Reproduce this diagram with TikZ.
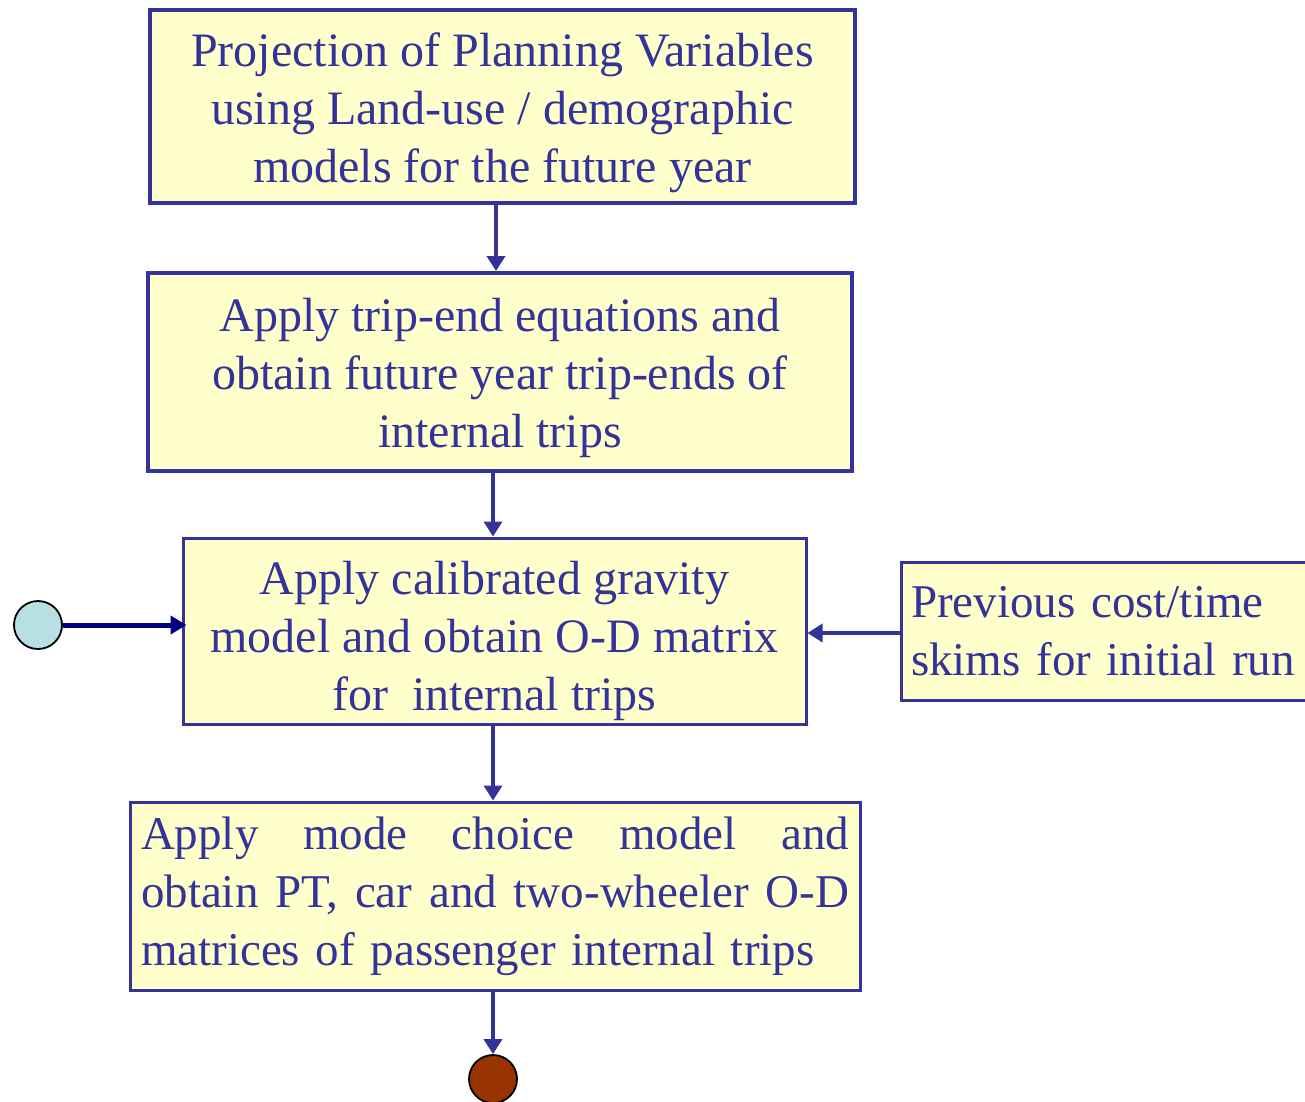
\documentclass[tikz,border=0pt]{standalone}
\usepackage{fontspec}
\setmainfont{Liberation Serif}
\usetikzlibrary{arrows.meta,calc}
\definecolor{boxblue}{HTML}{333399}
\definecolor{boxfill}{HTML}{FFFFCC}
\definecolor{navyline}{HTML}{000080}
\definecolor{startfill}{HTML}{B8DFE3}
\definecolor{endfill}{HTML}{993300}
\tikzset{
  stepbox/.style={draw=boxblue, fill=boxfill, text=boxblue, inner sep=0pt,
    align=center, font=\fontsize{48}{58}\selectfont},
  smallbox/.style={stepbox, font=\fontsize{47}{58}\selectfont},
  flow/.style={draw=boxblue, line width=4.5pt, -{Triangle[length=15pt,width=18pt]}},
  terminal/.style={circle, draw=black, line width=1.8pt, minimum size=48pt, inner sep=0pt},
}
% invisible strut that lowers a block of lines inside its box
\newcommand{\topstrut}[1]{\rule{0pt}{#1}}
\begin{document}
\begin{tikzpicture}[x=1pt,y=-1pt]
\useasboundingbox (0,0) rectangle (1305,1101);
\begin{scope}
\clip (0,0) rectangle (1305,1101);

\node[stepbox, line width=4pt, minimum width=705pt, minimum height=193pt] (b1) at (502.5,106.5)
  {\topstrut{46pt}Projection of Planning Variables\\using Land-use / demographic\\models for the future year};
\node[stepbox, line width=4pt, minimum width=704pt, minimum height=198pt] (b2) at (500,372)
  {\topstrut{46pt}Apply trip-end equations and\\obtain future year trip-ends of\\internal trips};
\node[stepbox, line width=3pt, minimum width=623pt, minimum height=186pt] (b3) at (494.5,631)
  {\topstrut{53pt}Apply calibrated gravity\\model and obtain O-D matrix\\for\ \ internal trips};
\node[smallbox, line width=3pt, minimum width=420pt, minimum height=138pt, align=left,
      text width=400pt] (b4) at (1111,631)
  {Previous cost/time\\skims for initial run};
\node[smallbox, line width=3pt, minimum width=730pt, minimum height=188pt, align=left,
      text width=708pt] (b5) at (495,896)
  {\makebox[708pt]{Apply\hfill mode\hfill choice\hfill model\hfill and}\\
   \makebox[708pt]{obtain\hfill PT,\hfill car\hfill and\hfill two-wheeler\hfill O-D}\\
   matrices of passenger internal trips};
\end{scope}

\node[terminal, fill=startfill] (start) at (38,625) {};
\node[terminal, fill=endfill] (stop) at (493,1079) {};

\coordinate (x1) at (496,0);
\coordinate (x2) at (493,0);
\draw[flow] (b1.south -| x1) -- (b2.north -| x1);
\draw[flow] (b2.south -| x2) -- (b3.north -| x2);
\draw[flow] (b3.south -| x2) -- (b5.north -| x2);
\draw[flow] (b5.south -| x2) -- (stop.north);
\draw[flow] (b4.west |- 0,633) -- (b3.east |- 0,633);
\draw[draw=navyline, line width=5pt, -{Triangle[length=16pt,width=18pt]}]
  (start.east) -- ([xshift=5pt]b3.west |- start.east);
\end{tikzpicture}
\end{document}
